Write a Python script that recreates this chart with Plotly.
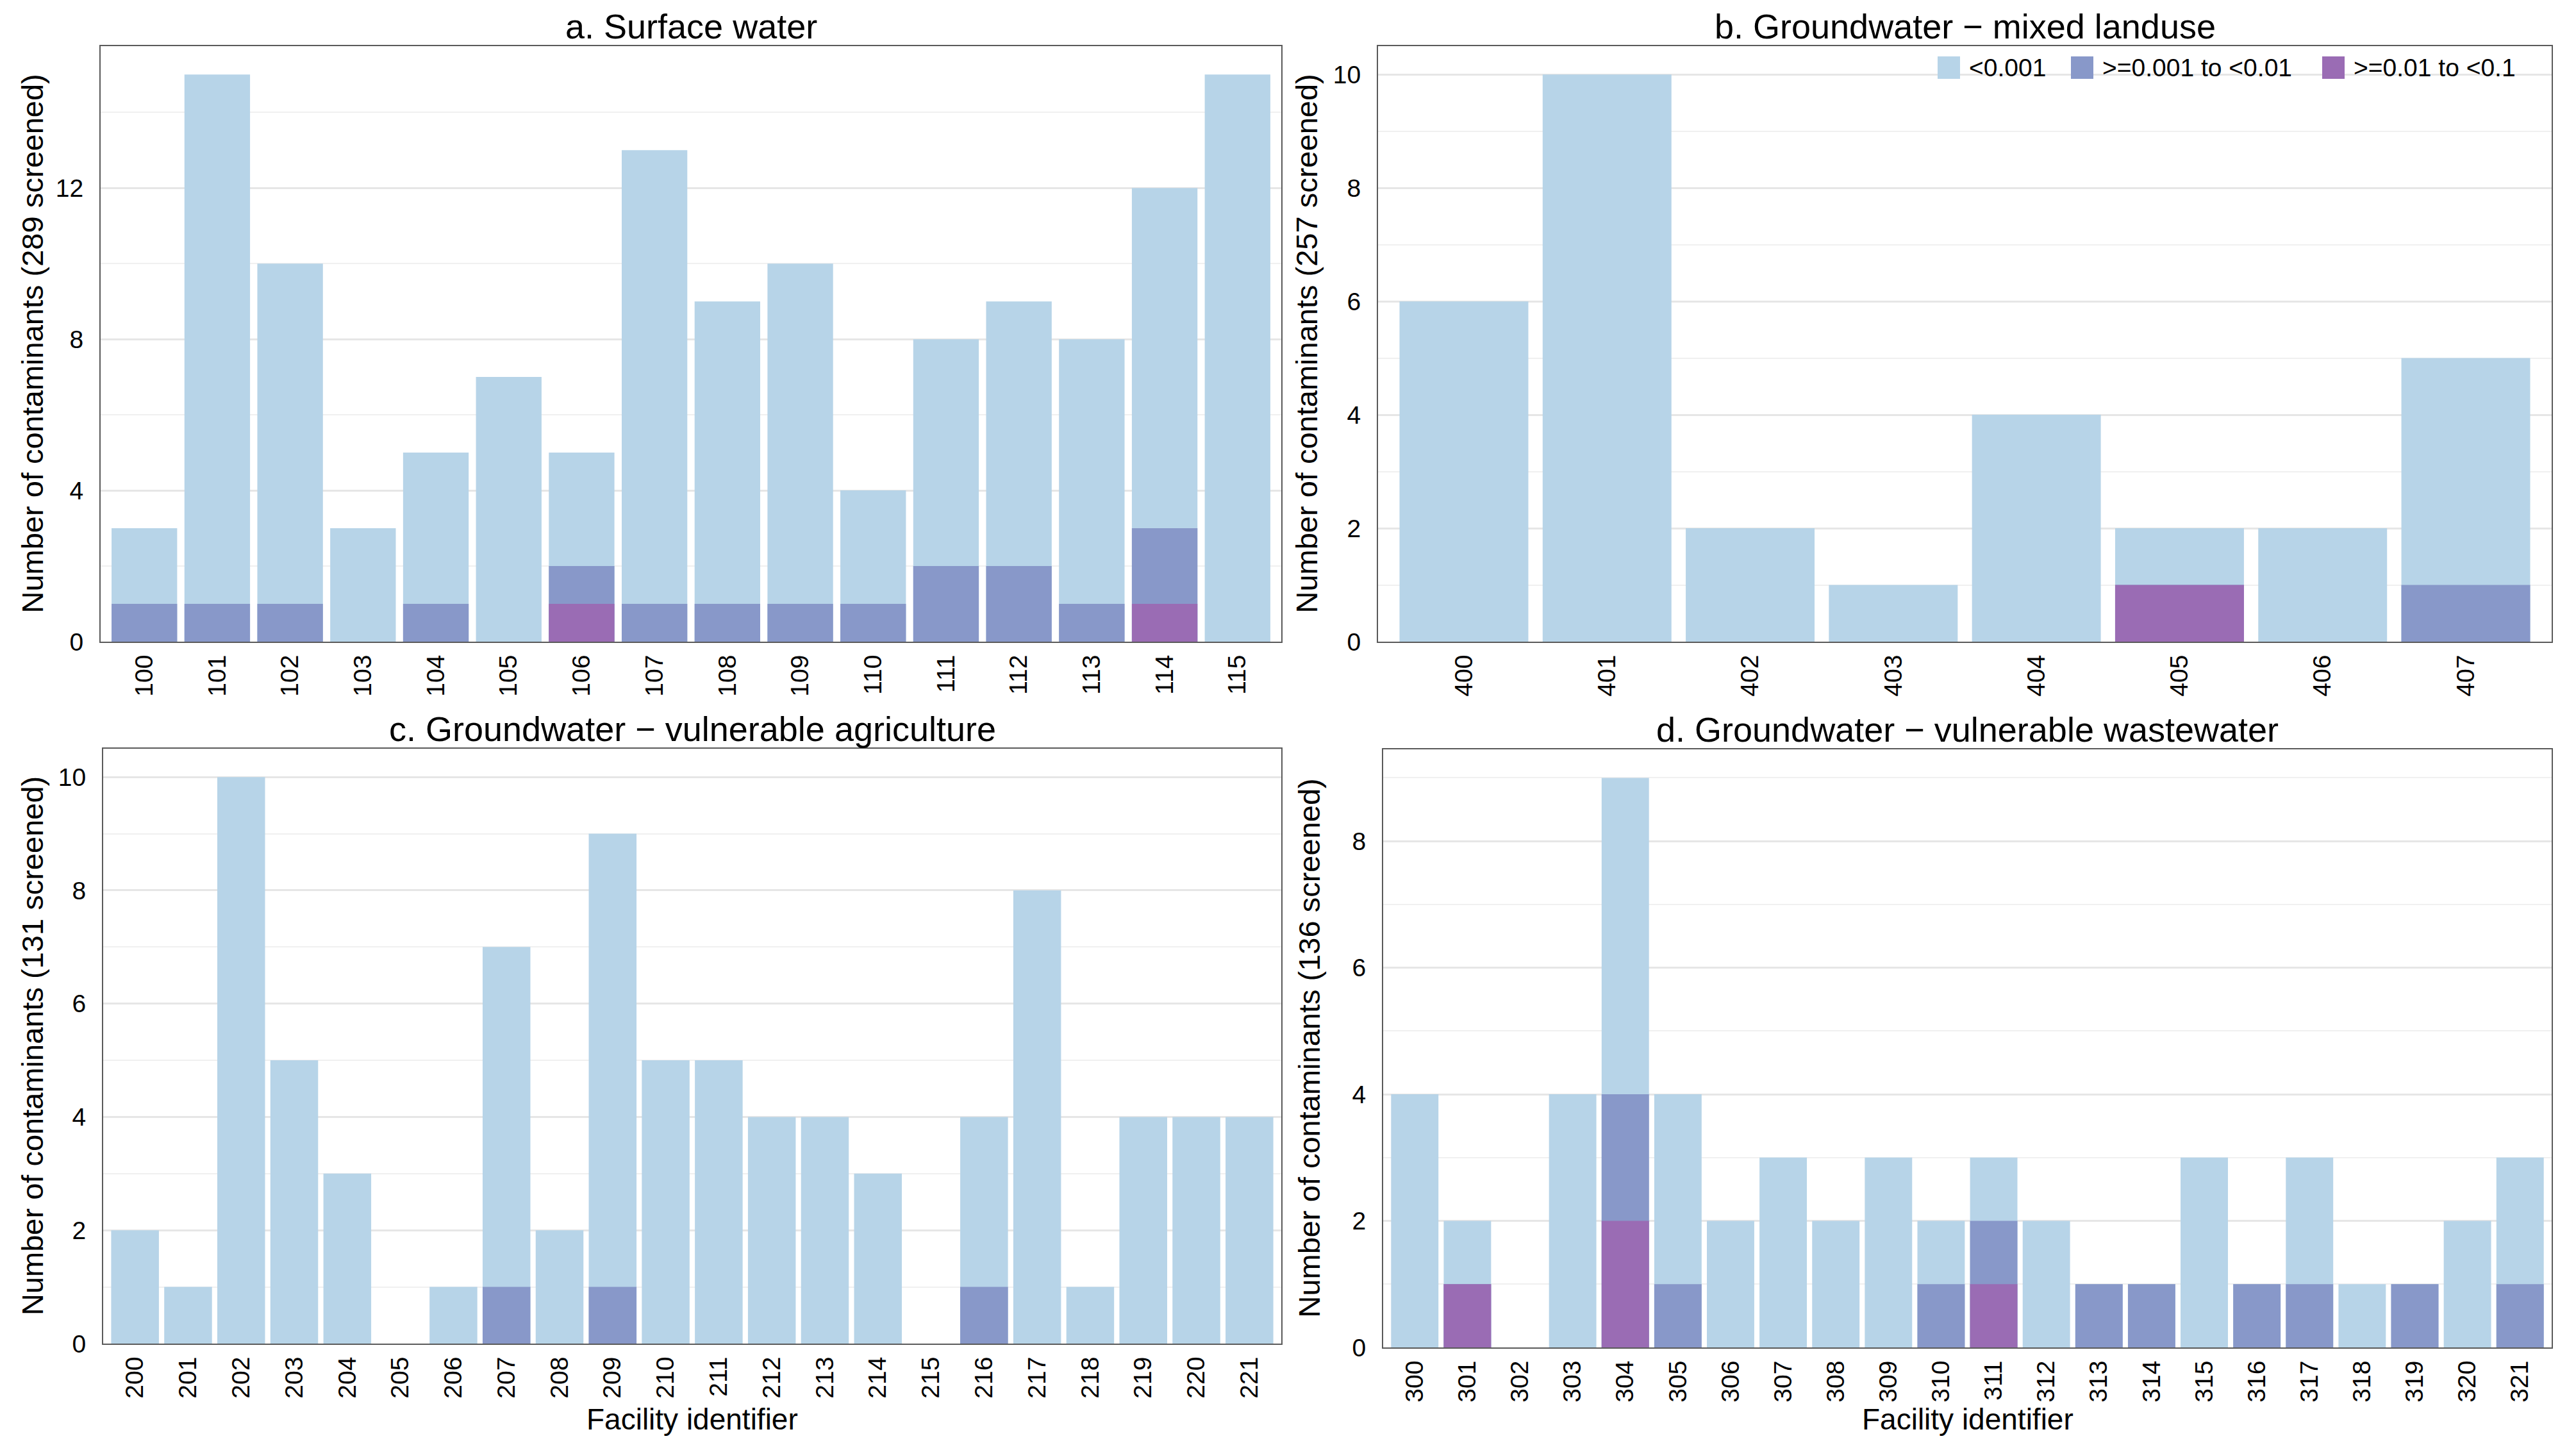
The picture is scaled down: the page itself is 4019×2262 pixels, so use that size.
import plotly.graph_objects as go

W, H = 4019, 2262
FONT = "Liberation Sans, Arial, Helvetica, sans-serif"

# colours for the three concentration classes
levels = ["<0.001", ">=0.001 to <0.01", ">=0.01 to <0.1"]
colors = ["#b7d4e8", "#8898c9", "#9a6cb4"]

# a. surface water
sw_ids = ["100", "101", "102", "103", "104", "105", "106", "107",
          "108", "109", "110", "111", "112", "113", "114", "115"]
sw_low = [3, 15, 10, 3, 5, 7, 5, 13, 9, 10, 4, 8, 9, 8, 12, 15]
sw_mid = [1, 1, 1, 0, 1, 0, 2, 1, 1, 1, 1, 2, 2, 1, 3, 0]
sw_high = [0, 0, 0, 0, 0, 0, 1, 0, 0, 0, 0, 0, 0, 0, 1, 0]

# b. groundwater - mixed landuse
ml_ids = ["400", "401", "402", "403", "404", "405", "406", "407"]
ml_low = [6, 10, 2, 1, 4, 2, 2, 5]
ml_mid = [0, 0, 0, 0, 0, 1, 0, 1]
ml_high = [0, 0, 0, 0, 0, 1, 0, 0]

# c. groundwater - vulnerable agriculture
ag_ids = ["200", "201", "202", "203", "204", "205", "206", "207", "208", "209", "210",
          "211", "212", "213", "214", "215", "216", "217", "218", "219", "220", "221"]
ag_low = [2, 1, 10, 5, 3, 0, 1, 7, 2, 9, 5, 5, 4, 4, 3, 0, 4, 8, 1, 4, 4, 4]
ag_mid = [0, 0, 0, 0, 0, 0, 0, 1, 0, 1, 0, 0, 0, 0, 0, 0, 1, 0, 0, 0, 0, 0]
ag_high = [0] * 22

# d. groundwater - vulnerable wastewater
ww_ids = ["300", "301", "302", "303", "304", "305", "306", "307", "308", "309", "310",
          "311", "312", "313", "314", "315", "316", "317", "318", "319", "320", "321"]
ww_low = [4, 2, 0, 4, 9, 4, 2, 3, 2, 3, 2, 3, 2, 1, 1, 3, 1, 3, 1, 1, 2, 3]
ww_mid = [0, 1, 0, 0, 4, 1, 0, 0, 0, 0, 1, 2, 0, 1, 1, 0, 1, 1, 0, 1, 0, 1]
ww_high = [0, 1, 0, 0, 2, 0, 0, 0, 0, 0, 0, 1, 0, 0, 0, 0, 0, 0, 0, 0, 0, 0]

panels = [
    dict(title="a. Surface water", ytitle="Number of contaminants (289 screened)",
         ids=sw_ids, vals=[sw_low, sw_mid, sw_high], dtick=4,
         xdom=[157, 1999], ydom=[72, 1001], ytx=50, xtitle=None),
    dict(title="b. Groundwater \u2212 mixed landuse", ytitle="Number of contaminants (257 screened)",
         ids=ml_ids, vals=[ml_low, ml_mid, ml_high], dtick=2,
         xdom=[2150, 3981], ydom=[72, 1001], ytx=2038, xtitle=None),
    dict(title="c. Groundwater \u2212 vulnerable agriculture", ytitle="Number of contaminants (131 screened)",
         ids=ag_ids, vals=[ag_low, ag_mid, ag_high], dtick=2,
         xdom=[161, 1999], ydom=[1168, 2096], ytx=50, xtitle="Facility identifier"),
    dict(title="d. Groundwater \u2212 vulnerable wastewater", ytitle="Number of contaminants (136 screened)",
         ids=ww_ids, vals=[ww_low, ww_mid, ww_high], dtick=2,
         xdom=[2158, 3981], ydom=[1169, 2102], ytx=2042, xtitle="Facility identifier"),
]

fig = go.Figure()
annotations = []
shapes = []

for i, p in enumerate(panels):
    sfx = "" if i == 0 else str(i + 1)
    for lvl, col, v in zip(levels, colors, p["vals"]):
        fig.add_trace(go.Bar(
            x=p["ids"], y=v, name=lvl, width=0.9,
            marker=dict(color=col, line=dict(width=0)),
            xaxis="x" + sfx, yaxis="y" + sfx, showlegend=False,
        ))
    n = len(p["ids"])
    ymax = max(p["vals"][0]) * 1.05
    xd = [p["xdom"][0] / W, p["xdom"][1] / W]
    yd = [1 - p["ydom"][1] / H, 1 - p["ydom"][0] / H]
    fig.layout["xaxis" + sfx] = dict(
        domain=xd, anchor="y" + sfx, type="category", range=[-0.6, n - 0.4],
        showgrid=False, zeroline=False, showline=True, mirror=True,
        linecolor="#5a5a5a", linewidth=2, ticks="", tickangle=-90,
        ticklabelstandoff=3, tickfont=dict(size=39, color="#000"),
        automargin=False, fixedrange=True,
    )
    fig.layout["yaxis" + sfx] = dict(
        domain=yd, anchor="x" + sfx, range=[0, ymax], dtick=p["dtick"], tick0=0,
        showgrid=True, gridcolor="#e6e6e6", gridwidth=2.5, zeroline=False,
        showline=True, mirror=True, linecolor="#5a5a5a", linewidth=2, ticks="",
        ticklabelstandoff=17, tickfont=dict(size=39, color="#000"),
        minor=dict(dtick=p["dtick"] / 2, tick0=0, showgrid=True,
                   gridcolor="#f0f0f0", gridwidth=1.5),
        automargin=False, fixedrange=True,
    )
    # panel title
    annotations.append(dict(
        text=p["title"], xref="paper", yref="paper", x=(xd[0] + xd[1]) / 2, y=yd[1],
        xanchor="center", yanchor="bottom", showarrow=False, yshift=-1,
        font=dict(size=54, color="#000"),
    ))
    # y-axis title
    annotations.append(dict(
        text=p["ytitle"], xref="paper", yref="paper", x=p["ytx"] / W, y=(yd[0] + yd[1]) / 2,
        xanchor="center", yanchor="middle", textangle=-90, showarrow=False,
        font=dict(size=47, color="#000"),
    ))
    if p["xtitle"]:
        annotations.append(dict(
            text=p["xtitle"], xref="paper", yref="paper", x=(xd[0] + xd[1]) / 2,
            y=1 - 2214 / H, xanchor="center", yanchor="middle", showarrow=False,
            font=dict(size=46, color="#000"),
        ))

# legend drawn inside panel b
leg_x = [3023, 3231, 3623]
for lvl, col, lx in zip(levels, colors, leg_x):
    shapes.append(dict(
        type="rect", xref="paper", yref="paper",
        x0=lx / W, x1=(lx + 35) / W, y0=1 - 123 / H, y1=1 - 88 / H,
        fillcolor=col, line=dict(width=0),
    ))
    annotations.append(dict(
        text=lvl, xref="paper", yref="paper", x=(lx + 47) / W, y=1 - 105 / H,
        xanchor="left", yanchor="middle", showarrow=False,
        font=dict(size=39, color="#000"),
    ))

fig.update_layout(
    width=W, height=H, barmode="overlay", bargap=0.1,
    margin=dict(l=0, r=0, t=0, b=0),
    plot_bgcolor="white", paper_bgcolor="white",
    font=dict(family=FONT, size=38, color="#000"),
    annotations=annotations, shapes=shapes, showlegend=False,
)

fig.write_html(
    "out.html",
    config={"displayModeBar": False},
    post_script="document.body.style.margin='0';document.body.style.overflow='hidden';",
)
